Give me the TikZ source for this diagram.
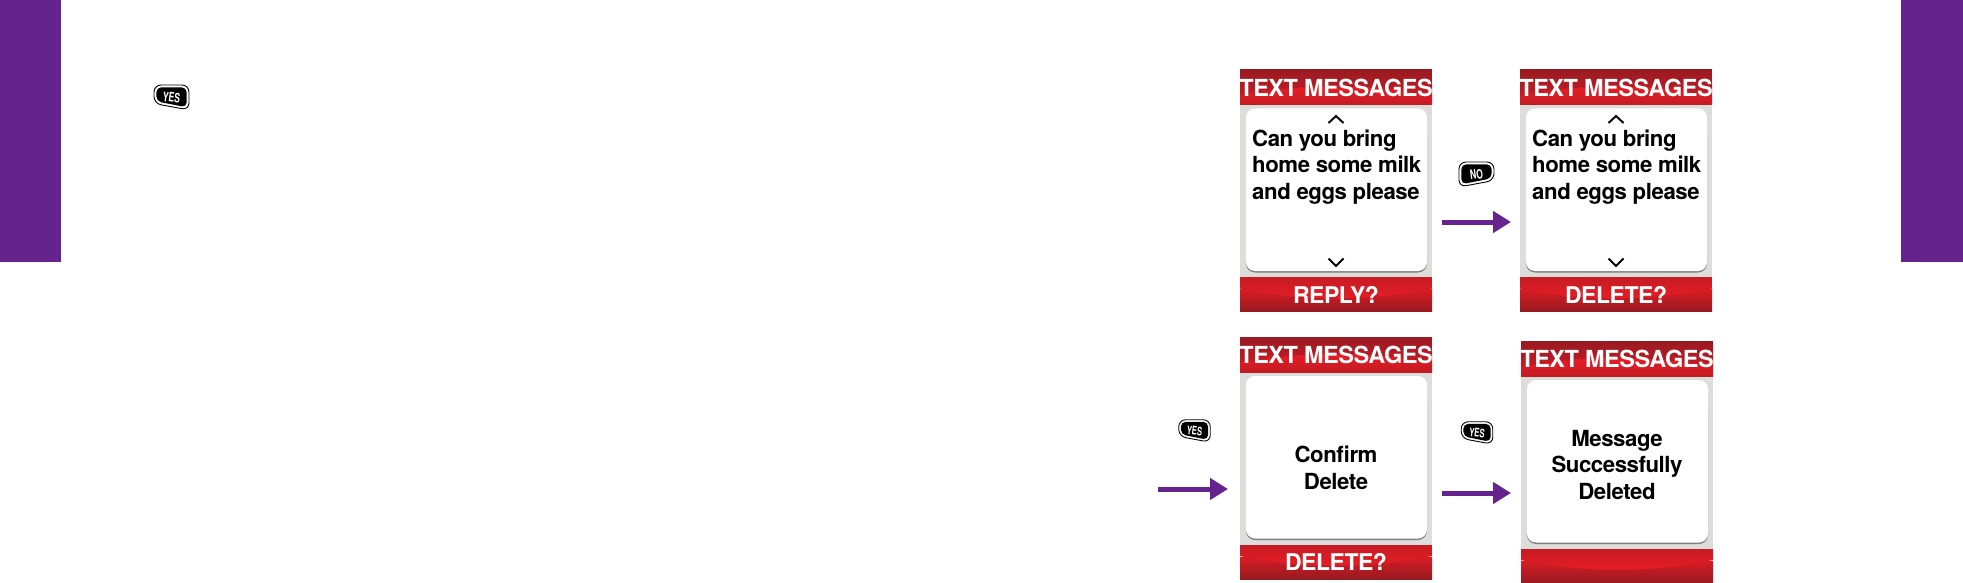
\documentclass[tikz,border=0pt]{standalone}
\usepackage{fontspec}
\setmainfont{TeX Gyre Heros}
\usetikzlibrary{arrows.meta}
\definecolor{barpurple}{HTML}{65238D}
\definecolor{reddark}{HTML}{971A21}
\definecolor{redmid}{HTML}{C41C24}
\definecolor{redbright}{HTML}{EC1C24}
\definecolor{redfade}{HTML}{D81C24}
\definecolor{paneledge}{HTML}{DDDDDC}
\newfontfamily\tightfont[LetterSpace=-2,BoldFont={* Bold}]{TeX Gyre Heros}
\tikzset{
  px/.style={x=1pt,y=-1pt},
  sidebar/.style={fill=barpurple,draw=none},
  flowarrow/.style={draw=barpurple,line width=5pt,-{Triangle[length=18pt,width=21pt]},shorten >=0pt},
  headtext/.style={text=white,font=\tightfont\bfseries\fontsize{23.5}{26}\selectfont,inner sep=0pt},
  foottext/.style={text=white,font=\tightfont\bfseries\fontsize{23}{26}\selectfont,inner sep=0pt},
  bodytext/.style={text=black,font=\tightfont\bfseries\fontsize{22.2}{26.7}\selectfont,inner sep=0pt},
  caret/.style={draw=black,line width=1.9pt},
  keytext/.style={text=white,font=\bfseries\fontsize{13}{13}\selectfont,inner sep=0pt},
}
% header band: dark above an upward arc, bright just under it
\newcommand{\headband}[3]{% x, y top, y bottom
  \begin{scope}
    \clip (#1,#2) rectangle (#1+192,#3);
    \shade[top color=redbright,bottom color=redmid] (#1,#2+14) rectangle (#1+192,#3);
    \shade[top color=reddark,bottom color=redmid]
      (#1,#2-1) -- (#1+192,#2-1) -- (#1+192,#2+26)
      .. controls (#1+132,#2+14) and (#1+60,#2+14) .. (#1,#2+26) -- cycle;
  \end{scope}
}
% footer band: red above a sagging arc, dark towards the bottom under it
\newcommand{\footband}[3]{% x, y top, y bottom
  \begin{scope}
    \clip (#1,#2) rectangle (#1+192,#3);
    \shade[top color=redfade,bottom color=reddark] (#1,#2+12) rectangle (#1+192,#3);
    \shade[top color=redmid,bottom color=redbright]
      (#1,#2-1) -- (#1+192,#2-1) -- (#1+192,#2+11)
      .. controls (#1+132,#2+24) and (#1+60,#2+24) .. (#1,#2+11) -- cycle;
  \end{scope}
}
% screen: name, x, y, header, footer
\newcommand{\phonescreen}[5]{%
  \fill[paneledge] (#2,#3) rectangle (#2+192,#3+242);
  \headband{#2}{#3}{#3+35}
  \footband{#2}{#3+208}{#3+242}
  \fill[black!50,rounded corners=9pt] (#2+6,#3+60) rectangle (#2+187,#3+203);
  \fill[white,rounded corners=9pt] (#2+6,#3+39) rectangle (#2+187,#3+201.5);
  \node[headtext] (#1head) at (#2+96,#3+18) {#4};
  \node[foottext] (#1foot) at (#2+96,#3+225) {#5};
}
% key: name, centre x, centre y, mirror sign, scale, text
\newcommand{\phonekey}[6]{%
  \begin{scope}[shift={(#2,#3)},xscale=#4*#5,yscale=#5]
    \draw[black,line width=0.9pt,fill=white,rounded corners=7pt]
      (-17.5,-12.5) -- (17.5,-12.5) -- (17.5,12.5) -- (-17.5,6) -- cycle;
    \fill[black,rounded corners=5pt]
      (-15.2,-10.2) -- (15.2,-10.2) -- (15.2,9.8) -- (-15.2,3.8) -- cycle;
  \end{scope}
  \node[keytext,rotate=-7*#4,xscale=0.66*#5,yscale=#5] (#1) at (#2,#3) {#6};
}
\begin{document}
\begin{tikzpicture}[px]
  \useasboundingbox (0,0) rectangle (1963,583);
  \fill[white] (0,0) rectangle (1963,583);
  \fill[sidebar] (0,0) rectangle (61,262);
  \fill[sidebar] (1901,0) rectangle (1963,262);

  \phonekey{keyyesa}{171.5}{97.5}{1}{1}{YES}

  \phonescreen{sa}{1240}{69.5}{TEXT MESSAGES}{REPLY?}
  \phonescreen{sb}{1520}{69.5}{TEXT MESSAGES}{DELETE?}
  \phonescreen{sc}{1240}{337}{TEXT MESSAGES}{DELETE?}
  \phonescreen{sd}{1521}{341}{TEXT MESSAGES}{}

  \node[bodytext,align=left,anchor=north west] (ba) at (1252,129.5) {Can you bring\\home some milk\\and eggs please};
  \node[bodytext,align=left,anchor=north west] (bb) at (1532,129.5) {Can you bring\\home some milk\\and eggs please};
  \node[bodytext,align=center] (bc) at (1336,468) {Confirm\\Delete};
  \node[bodytext,align=center] (bd) at (1617,465) {Message\\Successfully\\Deleted};

  \draw[caret] (1328.5,123) -- (1336,116) -- (1343.5,123);
  \draw[caret] (1328.5,258.5) -- (1336,266) -- (1343.5,258.5);
  \draw[caret] (1608.5,123) -- (1616,116) -- (1623.5,123);
  \draw[caret] (1608.5,258.5) -- (1616,266) -- (1623.5,258.5);

  \phonekey{keyno}{1476.5}{174.5}{-1}{1}{NO}
  \phonekey{keyyesb}{1194.5}{431}{1}{0.9}{YES}
  \phonekey{keyyesc}{1477}{433}{1}{0.9}{YES}

  \coordinate (aas) at (1442,222);
  \coordinate (aae) at (1511,222);
  \coordinate (abs) at (1158,489);
  \coordinate (abe) at (1228,489);
  \coordinate (acs) at (1442,493);
  \coordinate (ace) at (1511,493);
  \draw[flowarrow] (aas) -- (aae);
  \draw[flowarrow] (abs) -- (abe);
  \draw[flowarrow] (acs) -- (ace);
\end{tikzpicture}
\end{document}
